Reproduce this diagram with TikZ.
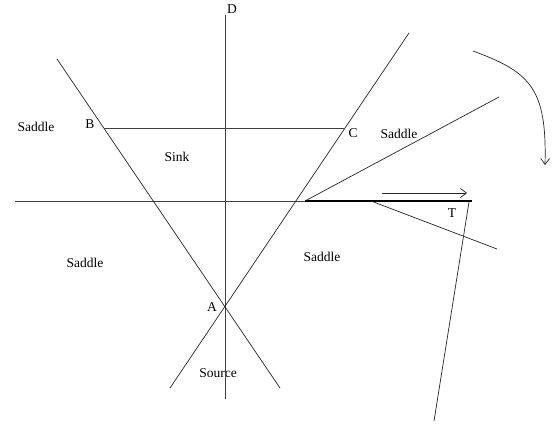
\documentclass[tikz,border=0pt]{standalone}
\usepackage{fontspec}
\setmainfont{Liberation Serif}
\usetikzlibrary{arrows.meta}

\begin{document}
\begin{tikzpicture}[
    x=1pt, y=-1pt,
    font=\fontsize{13.5}{15}\selectfont,
    line/.style={draw=black!85, line width=0.7pt},
    axis/.style={draw=black!75, line width=0.8pt},
    path/.style={draw=black, line width=2.8pt},
    arrow/.style={line, -{Straight Barb[length=6pt, width=9pt]}},
    lbl/.style={inner sep=0pt}
  ]
    \useasboundingbox[fill=white] (0,0) rectangle (552,428);

    \coordinate (dtop) at (225,15);
    \coordinate (dbot) at (225,399);
    \coordinate (left) at (15,201);
    \coordinate (kink) at (305,201);
    \coordinate (tend) at (472,201);
    \coordinate (btop) at (57,59);
    \coordinate (bbot) at (280,388);
    \coordinate (ctop) at (409,33);
    \coordinate (cbot) at (170,388);
    \coordinate (bpt) at (104,128);
    \coordinate (cpt) at (344,128);
    \coordinate (rayup) at (499,97);
    \coordinate (raystart) at (371,201);
    \coordinate (raydown) at (497,249);
    \coordinate (ttop) at (469,202);
    \coordinate (tbot) at (434,421);
    \coordinate (flowa) at (382,193);
    \coordinate (flowb) at (467,193);
    \coordinate (turna) at (473,51);
    \coordinate (turnb) at (545,165);

    \node[lbl] (dlabel) at (232,9) {D};
    \node[lbl] (blabel) at (90,124) {B};
    \node[lbl] (clabel) at (353,133) {C};
    \node[lbl] (alabel) at (212,307) {A};
    \node[lbl] (tlabel) at (452,213) {T};
    \node[lbl] (saddlenw) at (36,127) {Saddle};
    \node[lbl] (sink) at (177,157) {Sink};
    \node[lbl] (saddlene) at (399,134) {Saddle};
    \node[lbl] (saddlesw) at (85,263) {Saddle};
    \node[lbl] (saddlese) at (322,257) {Saddle};
    \node[lbl] (source) at (218,373) {Source};

    \draw[axis] (dtop) -- (dbot);
    \draw[axis] (left) -- (kink);
    \draw[path] (kink) -- (tend);
    \draw[line] (btop) -- (bbot);
    \draw[line] (ctop) -- (cbot);
    \draw[axis] (bpt) -- (cpt);
    \draw[line] (kink) -- (rayup);
    \draw[line] (raystart) -- (raydown);
    \draw[line] (ttop) -- (tbot);
    \draw[arrow] (flowa) -- (flowb);
    \draw[arrow] (turna) .. controls (530,72) and (547,88) .. (545,165);
  \end{tikzpicture}
\end{document}
